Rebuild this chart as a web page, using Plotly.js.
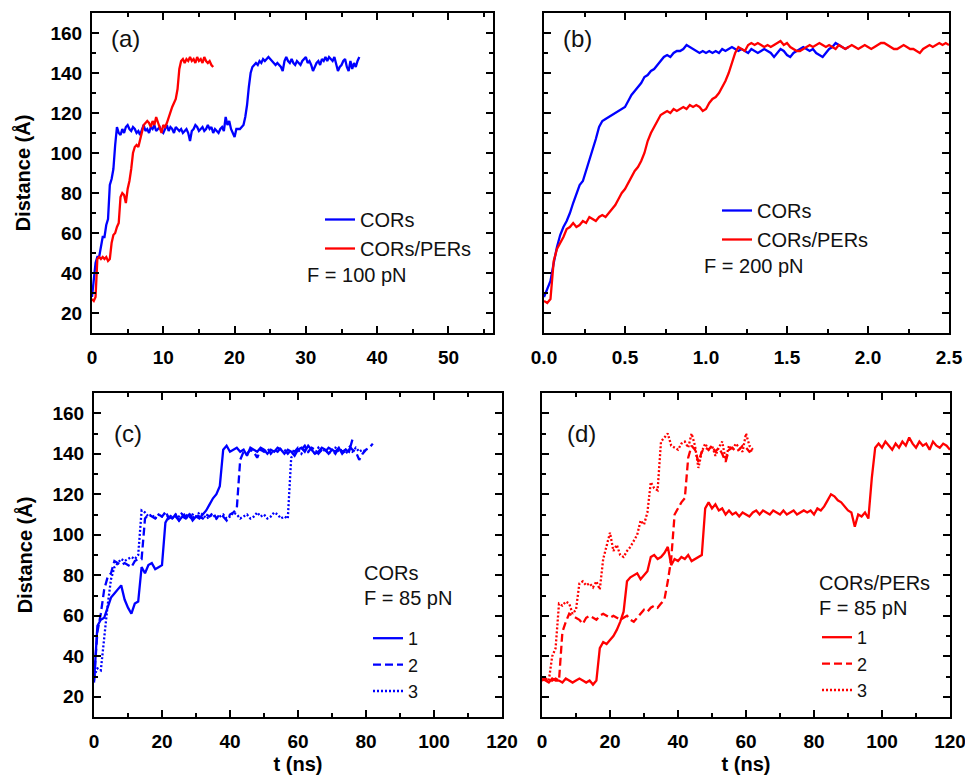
<!DOCTYPE html>
<html>
<head>
<meta charset="utf-8">
<script src="https://cdn.plot.ly/plotly-3.0.1.min.js"></script>
<style>html,body{margin:0;padding:0;background:#fff;}#chart{width:965px;height:775px;}</style>
</head>
<body>
<div id="chart"></div>
<script>
// ---------- DATA ----------
// Panel (a): F = 100 pN, sampled every aStep ns starting at 0
const aStep = 0.25;
const aCors = [
 28,38,45,48,48,53,58,58,64,67,84,87,92,104,113,110,109,112,110,113,
 114,112,111,113,112,110,111,109,112,114,111,112,110,113,112,114,111,112,113,111,
 110,112,114,111,113,112,110,113,112,111,112,110,111,112,110,106,111,112,114,113,
 111,112,113,111,112,114,112,113,110,112,111,110,112,113,111,118,114,116,112,110,
 108,112,112,112,113,114,118,124,133,140,143,144,145,144,146,145,147,146,147,148,
 147,146,145,144,145,144,143,141,146,148,146,145,147,145,144,146,145,144,146,147,
 148,145,146,144,141,143,145,146,144,147,146,148,146,148,147,146,148,145,141,143,
 144,146,147,143,141,146,142,145,143,146,148];
const aCorsPers = [
 27,26,28,47,48,47,48,47,48,46,47,55,59,60,63,65,78,80,79,75,
 82,86,92,100,103,104,103,107,110,114,115,116,115,113,116,114,118,115,113,110,
 114,113,115,118,121,123,125,127,132,142,146,147,145,147,146,148,146,147,145,148,
 146,147,145,148,146,145,146,144,143];

// Panel (b): F = 200 pN, sampled every bStep ns starting at 0
const bStep = 0.02;
const bCors = [
 28,32,36,45,53,59,63,66,70,75,80,84,86,91,96,102,107,113,116,117,
 118,119,120,121,122,123,126,129,131,133,135,138,139,141,142,144,146,148,149,148,
 150,151,151,152,154,153,152,151,150,151,150,151,150,151,150,152,151,152,153,152,
 151,152,151,150,152,151,150,151,152,151,150,148,150,152,151,149,148,150,151,152,
 153,152,151,152,150,149,148,150,152,153,155,154,153,152,153];
const bCorsPers = [
 26,25,27,46,52,55,58,62,63,65,63,64,66,65,68,67,66,68,69,68,
 70,72,74,77,80,82,85,88,91,93,96,100,106,110,113,116,119,120,121,120,
 122,121,122,123,122,124,123,124,123,121,122,125,127,128,130,133,136,140,145,150,
 153,152,151,154,155,154,155,154,153,154,153,154,155,156,154,155,153,152,151,151,
 152,153,154,153,154,155,154,153,154,153,152,154,153,152,153,154,153,152,153,154,
 153,152,153,154,155,155,154,153,152,152,153,154,153,152,152,151,150,152,153,154,
 153,154,155,154,155,154];

// Panel (c): CORs, F = 85 pN, runs 1-3, sampled every cdStep ns starting at 0
const cdStep = 1;
const cRun1 = [
 27,55,58,59,64,69,71,73,75,68,64,61,66,67,84,81,85,86,83,84,
 85,106,109,108,110,107,109,108,110,107,109,108,110,112,115,118,120,124,142,144,
 141,142,143,141,142,139,143,142,141,143,142,140,142,141,143,142,140,142,141,139,
 142,143,141,144,142,140,141,143,142,140,142,141,143,140,142,141,147];
const cRun2 = [
 28,52,61,73,79,81,87,86,85,86,85,84,87,88,88,108,110,109,108,110,
 109,111,108,110,109,107,110,109,111,108,110,109,108,110,109,111,108,110,109,107,
 110,111,113,137,141,140,142,141,138,142,141,143,140,142,141,143,142,140,142,141,
 143,142,144,141,143,142,140,142,141,143,142,140,143,141,142,144,142,141,137,140,
 142,143,145];
const cRun3 = [
 30,34,33,50,65,78,84,86,88,87,88,89,88,90,112,111,109,110,108,110,
 109,111,109,108,110,109,111,109,108,110,109,111,110,108,109,110,108,109,110,108,
 109,111,110,108,109,110,108,109,111,109,110,108,109,111,110,108,109,108,138,141,
 142,140,143,141,142,140,143,141,142,140,142,143,141,142,140,142,141,143,141,142,
 141];

// Panel (d): CORs/PERs, F = 85 pN, runs 1-3
const dRun1 = [
 29,28,27,29,28,28,27,29,28,27,28,29,28,27,28,26,28,44,47,46,
 48,50,53,57,62,77,79,80,81,78,80,82,89,90,88,89,91,94,85,88,
 87,89,88,90,87,88,89,90,113,116,113,115,112,113,110,112,110,111,109,111,
 110,109,111,112,110,112,111,110,112,111,110,112,110,111,112,110,111,112,111,112,
 110,113,112,114,117,120,119,117,116,114,112,111,104,110,109,111,108,128,143,145,
 143,146,144,142,145,143,146,144,148,145,143,146,144,145,142,146,144,143,145,144,
 142];
const dRun2 = [
 28,29,27,28,29,28,52,57,61,60,59,58,56,59,60,59,58,60,61,60,
 59,60,59,58,59,60,58,57,59,61,63,62,64,65,64,66,68,77,88,110,
 113,116,118,138,144,142,136,141,143,142,144,141,143,140,136,142,143,141,142,144,
 143,141,142];
const dRun3 = [
 28,29,28,40,44,66,65,67,66,61,63,76,77,75,76,74,77,73,88,94,
 101,92,95,90,89,92,94,97,100,107,105,111,126,123,122,146,148,150,144,143,
 142,145,146,143,150,144,133,141,145,142,144,139,143,146,137,144,142,145,143,141,
 150,144,142];

const seriesNames = ['CORs', 'CORs/PERs'];
const runNames = ['1', '2', '3'];
const xTickLabelsB = ['0.0', '0.5', '1.0', '1.5', '2.0', '2.5'];

// ---------- STYLE ----------
const BLUE = '#0000ff', RED = '#ff0000';
const FONT = 'Liberation Sans, Arial, Helvetica, sans-serif';
const W = 965, H = 775;
const px2x = p => p / W, py2y = p => 1 - p / H;

function tr(y, step, xa, ya, color, dash, name, legend) {
  return {
    type: 'scatter', mode: 'lines', y: y, x0: 0, dx: step,
    xaxis: xa, yaxis: ya, name: name, legend: legend,
    line: {color: color, width: 2.3, dash: dash}, hoverinfo: 'skip'
  };
}

const data = [
  tr(aCors, aStep, 'x', 'y', BLUE, 'solid', seriesNames[0], 'legend'),
  tr(aCorsPers, aStep, 'x', 'y', RED, 'solid', seriesNames[1], 'legend'),
  tr(bCors, bStep, 'x2', 'y2', BLUE, 'solid', seriesNames[0], 'legend2'),
  tr(bCorsPers, bStep, 'x2', 'y2', RED, 'solid', seriesNames[1], 'legend2'),
  tr(cRun1, cdStep, 'x3', 'y3', BLUE, 'solid', runNames[0], 'legend3'),
  tr(cRun2, cdStep, 'x3', 'y3', BLUE, '8px,4px', runNames[1], 'legend3'),
  tr(cRun3, cdStep, 'x3', 'y3', BLUE, '2px,2px', runNames[2], 'legend3'),
  tr(dRun1, cdStep, 'x4', 'y4', RED, 'solid', runNames[0], 'legend4'),
  tr(dRun2, cdStep, 'x4', 'y4', RED, '8px,4px', runNames[1], 'legend4'),
  tr(dRun3, cdStep, 'x4', 'y4', RED, '2px,2px', runNames[2], 'legend4')
];

const tickFont = {family: FONT, size: 19, weight: 'bold', color: '#000'};
const titleFont = {family: FONT, size: 20, weight: 'bold', color: '#000'};

function minorT(dtick) {
  return {ticks: 'inside', ticklen: 4, tickwidth: 2, tickcolor: '#000', dtick: dtick, tick0: 0, showgrid: false};
}
function axis(o) {
  return Object.assign({
    showline: true, linewidth: 2, linecolor: '#000', mirror: 'allticks',
    ticks: 'inside', ticklen: 7, tickwidth: 2, tickcolor: '#000',
    showgrid: false, zeroline: false, tickfont: tickFont, fixedrange: true,
    ticklabeloverflow: 'allow'
  }, o);
}

const yA = [13, 333], yC = [393, 717];
function legendAt(x, y, size) {
  return {x: px2x(x), y: py2y(y), xanchor: 'left', yanchor: 'top', bgcolor: 'rgba(0,0,0,0)',
    font: {family: FONT, size: size, color: '#111'}, tracegroupgap: 0, itemwidth: 30};
}
function note(text, x, y, size) {
  return {text: text, xref: 'paper', yref: 'paper', x: px2x(x), y: py2y(y), xanchor: 'left', yanchor: 'middle',
    showarrow: false, font: {family: FONT, size: size, color: '#111'}};
}

const layout = {
  width: W, height: H, margin: {l: 0, r: 0, t: 0, b: 0},
  paper_bgcolor: '#fff', plot_bgcolor: '#fff', showlegend: true,
  xaxis: axis({domain: [px2x(92), px2x(493)], range: [0, 56.25], dtick: 10, tick0: 0,
    minor: minorT(5), anchor: 'y', ticklabelstandoff: 6}),
  yaxis: axis({domain: [py2y(yA[1]), py2y(yA[0])], range: [10, 170], dtick: 20, tick0: 0,
    minor: minorT(10), anchor: 'x', ticklabelstandoff: 4,
    title: {text: 'Distance (Å)', font: titleFont, standoff: 14}}),
  xaxis2: axis({domain: [px2x(544), px2x(949)], range: [0, 2.5], tickvals: [0, 0.5, 1, 1.5, 2, 2.5], ticktext: xTickLabelsB,
    minor: minorT(0.25), anchor: 'y2', ticklabelstandoff: 6}),
  yaxis2: axis({domain: [py2y(yA[1]), py2y(yA[0])], range: [10, 170], dtick: 20, tick0: 0, showticklabels: false,
    minor: minorT(10), anchor: 'x2'}),
  xaxis3: axis({domain: [px2x(94), px2x(502)], range: [0, 120], dtick: 20, tick0: 0,
    minor: minorT(10), anchor: 'y3', ticklabelstandoff: 6,
    title: {text: 't (ns)', font: titleFont, standoff: 10}}),
  yaxis3: axis({domain: [py2y(yC[1]), py2y(yC[0])], range: [10, 170], dtick: 20, tick0: 0,
    minor: minorT(10), anchor: 'x3', ticklabelstandoff: 4,
    title: {text: 'Distance (Å)', font: titleFont, standoff: 14}}),
  xaxis4: axis({domain: [px2x(542), px2x(950)], range: [0, 120], dtick: 20, tick0: 0,
    minor: minorT(10), anchor: 'y4', ticklabelstandoff: 6,
    title: {text: 't (ns)', font: titleFont, standoff: 10}}),
  yaxis4: axis({domain: [py2y(yC[1]), py2y(yC[0])], range: [10, 170], dtick: 20, tick0: 0, showticklabels: false,
    minor: minorT(10), anchor: 'x4'}),
  legend: legendAt(320, 200, 20),
  legend2: legendAt(717, 191, 20),
  legend3: legendAt(368, 620, 18),
  legend4: legendAt(817, 619, 18),
  annotations: [
    note('(a)', 109, 38, 24),
    note('(b)', 561, 38, 24),
    note('(c)', 112, 433, 24),
    note('(d)', 565, 433, 24),
    note('F = 100 pN', 305, 275, 20),
    note('F = 200 pN', 702, 266, 20),
    note('CORs', 362, 573, 20),
    note('F = 85 pN', 362, 598, 20),
    note('CORs/PERs', 817, 583, 20),
    note('F = 85 pN', 817, 608, 20)
  ]
};

Plotly.newPlot('chart', data, layout, {displayModeBar: false, staticPlot: true});
</script>
</body>
</html>
